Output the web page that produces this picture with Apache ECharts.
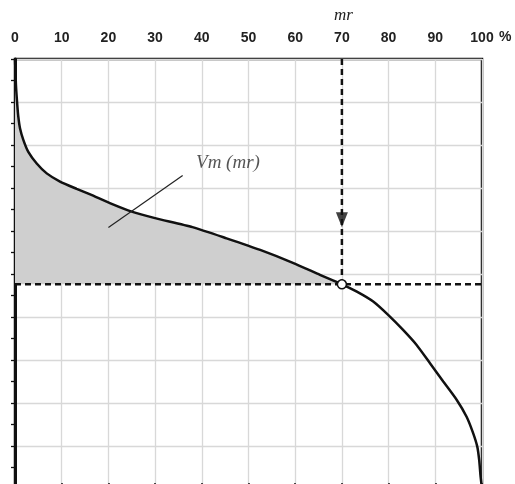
<!DOCTYPE html>
<html>
<head>
<meta charset="utf-8">
<script src="https://cdn.jsdelivr.net/npm/echarts@6/dist/echarts.min.js"></script>
<style>
  html, body { margin: 0; padding: 0; background: #fff; }
  #chart { width: 515px; height: 484px; }
</style>
</head>
<body>
<div id="chart"></div>
<script>
// duration-type curve (x in %, y in grid units)
var curveX = [0, 0.2, 0.49, 0.71, 1.07, 1.78, 2.85, 4.65, 6.79, 9.64, 13.2, 16.1, 20.7, 25, 30, 38, 45.3, 52.5, 59.5, 65.3, 70, 73.2, 76.7, 79.9, 83.1, 86, 88.9, 91.7, 94.6, 96.7, 98.1, 99, 99.4, 99.7, 100]
var curveY = [10, 9.4, 8.93, 8.66, 8.39, 8.12, 7.84, 7.57, 7.34, 7.15, 6.98, 6.85, 6.63, 6.45, 6.3, 6.09, 5.83, 5.56, 5.26, 4.98, 4.76, 4.59, 4.36, 4.05, 3.7, 3.35, 2.92, 2.5, 2.07, 1.68, 1.3, 0.98, 0.67, 0.29, 0]

var mrX = 70
var mrLevel = 4.76
var arrowY = 6.26

// pointer of the Vm (mr) label
var pointerX = [20, 35.9]
var pointerY = [6.08, 7.29]
var labelPos = [45.6, 7.58]

var xTicks = [0, 10, 20, 30, 40, 50, 60, 70, 80, 90, 100]

var curve = curveX.map(function (x, i) { return [x, curveY[i]] })
var shaded = curve.filter(function (p) { return p[0] <= mrX })

var chart = echarts.init(document.getElementById('chart'))

chart.setOption({
    animation: false,
    grid: {
        left: 15, top: 59, width: 467, height: 430,
        outerBoundsMode: 'none', containLabel: false,
        show: true, borderColor: '#111', borderWidth: 2.5
    },
    xAxis: {
        type: 'value', position: 'top', min: 0, max: 100, interval: 10,
        axisLine: { lineStyle: { color: '#111', width: 3 } },
        axisTick: { length: 6, lineStyle: { color: '#111', width: 1.5 } },
        minorTick: { show: true, splitNumber: 5, length: 3, lineStyle: { color: '#333', width: 1 } },
        splitLine: { lineStyle: { color: '#d8d8d8', width: 1.3 } },
        axisLabel: {
            margin: 14, color: '#222', fontFamily: 'Liberation Sans', fontWeight: 'bold', fontSize: 14,
            formatter: function (v) { return xTicks.indexOf(v) >= 0 ? String(v) : '' }
        }
    },
    yAxis: {
        type: 'value', min: 0, max: 10, interval: 1,
        axisLine: { lineStyle: { color: '#111', width: 3 } },
        axisTick: { length: 4, lineStyle: { color: '#111', width: 1.3 } },
        minorTick: { show: true, splitNumber: 2, length: 4, lineStyle: { color: '#111', width: 1.3 } },
        splitLine: { lineStyle: { color: '#d8d8d8', width: 1.3 } },
        axisLabel: { show: false }
    },
    graphic: [
        { type: 'text', left: 499, top: 30, style: { text: '%', fill: '#222', font: 'bold 14px "Liberation Sans"' } },
        { type: 'text', left: 334, top: 7, style: { text: 'mr', fill: '#222', font: 'italic 17px "Liberation Serif"' } }
    ],
    series: [
        {
            // grey area between curve and mr level
            type: 'line', data: shaded, smooth: 0.2, showSymbol: false,
            lineStyle: { width: 0 },
            areaStyle: { color: '#cfcfcf', opacity: 1, origin: mrLevel },
            z: 2
        },
        {
            type: 'line', data: [[0, mrLevel], [100, mrLevel]], showSymbol: false,
            lineStyle: { color: '#111', width: 2.5, type: [6, 4] },
            z: 3
        },
        {
            type: 'line', data: [[mrX, 10], [mrX, mrLevel]], showSymbol: false,
            lineStyle: { color: '#111', width: 2.5, type: [6, 4] },
            z: 3
        },
        {
            type: 'line', data: curve, smooth: 0.2, showSymbol: false,
            lineStyle: { color: '#111', width: 2.5 },
            z: 4
        },
        {
            type: 'line', data: [[pointerX[0], pointerY[0]], [pointerX[1], pointerY[1]]], showSymbol: false,
            lineStyle: { color: '#222', width: 1.2 },
            z: 5
        },
        {
            type: 'scatter', data: [[mrX, arrowY]], symbol: 'triangle', symbolRotate: 180, symbolSize: [12, 15],
            itemStyle: { color: '#111' }, z: 6
        },
        {
            type: 'scatter', data: [[mrX, mrLevel]], symbol: 'circle', symbolSize: 9,
            itemStyle: { color: '#fff', borderColor: '#111', borderWidth: 1.5, opacity: 1 }, z: 7
        },
        {
            type: 'scatter', data: [labelPos], symbolSize: 0,
            label: {
                show: true, position: 'inside', formatter: 'Vm (mr)',
                color: '#2a2a2a', fontFamily: 'Liberation Serif', fontStyle: 'italic', fontSize: 19
            },
            z: 8
        }
    ]
})
</script>
</body>
</html>
